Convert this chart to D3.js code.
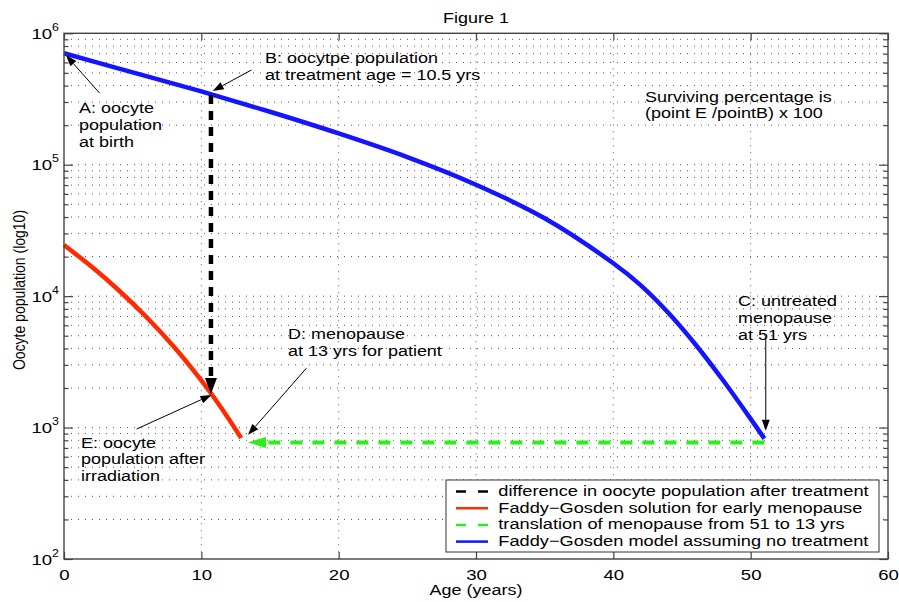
<!DOCTYPE html>
<html>
<head>
<meta charset="utf-8">
<script src="https://cdn.jsdelivr.net/npm/d3@7/dist/d3.min.js"></script>
<style>
  body { margin: 0; background: #fff; }
  text { font-family: "Liberation Sans", Arial, sans-serif; fill: #000; }
</style>
</head>
<body>
<div id="chart"></div>
<script>
// Chart values
var untreatedAge = [0, 5, 10, 15, 20, 25, 30, 35, 40, 42, 44, 46, 48, 50, 51];
var untreatedPop = [704700, 504700, 361400, 252900, 173000, 114300, 70470, 39170, 17780, 12080, 7480, 4270, 2280, 1164, 824];

var treatedAge = [0, 2, 4, 6, 8, 10, 11, 12, 12.9];
var treatedPop = [24490, 16790, 11040, 6934, 4121, 2286, 1648, 1161, 832];

var diffAge = [10.7, 10.7];
var diffPop = [340000, 1800];

var shiftAge = [51, 13.4];
var shiftPop = [771, 771];

var xTicks = [0, 10, 20, 30, 40, 50, 60];
var yExponents = [2, 3, 4, 5, 6];

var legendLabels = [
  "difference in oocyte population after treatment",
  "Faddy\u2212Gosden solution for early menopause",
  "translation of menopause from 51 to 13 yrs",
  "Faddy\u2212Gosden model assuming no treatment"
];

// annotation arrows: tail and tip, in (age, population)
var noteFrom = [[2.6, 350000], [13.65, 526000], [51.1, 4930], [17.65, 2830], [5.29, 975]];
var noteTo   = [[0.15, 680000], [10.83, 364000], [51.1, 946], [13.4, 881], [10.74, 1770]];

var noteText = [
  { x: 79,  y: 113,   lines: ["A: oocyte", "population", "at birth"] },
  { x: 265, y: 63,    lines: ["B: oocytpe population", "at treatment age = 10.5 yrs"] },
  { x: 645, y: 101.5, lines: ["Surviving percentage is", "(point E /pointB) x 100"] },
  { x: 738, y: 306,   lines: ["C: untreated", "menopause", "at 51 yrs"] },
  { x: 288, y: 339,   lines: ["D: menopause", "at 13 yrs for patient"] },
  { x: 81,  y: 447.5, lines: ["E: oocyte", "population after", "irradiation"] }
];

// Layout
var width = 899, height = 602;
var plotLeft = 64, plotRight = 888, plotTop = 33.3, plotBottom = 559;
var stretch = 1.24;   // the figure's text is a bit wide
var blue = "#1414ff", red = "#ff2a00", green = "#2aef1a";

var svg = d3.select("#chart").append("svg")
  .attr("width", width)
  .attr("height", height);

var x = d3.scaleLinear().domain([0, 60]).range([plotLeft, plotRight]);
var y = d3.scaleLog().domain([100, 1e6]).range([plotBottom, plotTop]);

// all grid values on the log axis
var majorVals = yExponents.map(function(e) { return Math.pow(10, e); });
var minorVals = [];
yExponents.slice(0, -1).forEach(function(e) {
  for (var k = 2; k <= 9; k++) minorVals.push(k * Math.pow(10, e));
});

// Dotted grid
var grid = svg.append("g").attr("stroke", "#555").attr("stroke-width", 1).attr("stroke-dasharray", "1,6");
grid.selectAll("line.gx")
  .data(xTicks.slice(1, -1))
  .enter().append("line")
  .attr("x1", function(d) { return x(d); })
  .attr("x2", function(d) { return x(d); })
  .attr("y1", plotTop).attr("y2", plotBottom);
grid.selectAll("line.gy")
  .data(majorVals.slice(1, -1).concat(minorVals))
  .enter().append("line")
  .attr("x1", plotLeft).attr("x2", plotRight)
  .attr("y1", function(d) { return y(d); })
  .attr("y2", function(d) { return y(d); });

// helper: line ending in a filled arrowhead
function arrow(x1, y1, x2, y2, len, hw, color, w, dash) {
  var dx = x2 - x1, dy = y2 - y1, L = Math.sqrt(dx * dx + dy * dy);
  var ux = dx / L, uy = dy / L;
  var bx = x2 - ux * len, by = y2 - uy * len;
  var ln = svg.append("line")
    .attr("x1", x1).attr("y1", y1).attr("x2", bx).attr("y2", by)
    .attr("stroke", color).attr("stroke-width", w);
  if (dash) ln.attr("stroke-dasharray", dash);
  svg.append("path")
    .attr("d", "M" + x2 + "," + y2 +
      "L" + (bx - uy * hw) + "," + (by + ux * hw) +
      "L" + (bx + uy * hw) + "," + (by - ux * hw) + "Z")
    .attr("fill", color);
}

// Curves
var line = d3.line()
  .x(function(d) { return x(d[0]); })
  .y(function(d) { return y(d[1]); })
  .curve(d3.curveCatmullRom.alpha(0.5));

svg.append("path")
  .datum(d3.zip(untreatedAge, untreatedPop))
  .attr("d", line)
  .attr("fill", "none").attr("stroke", blue).attr("stroke-width", 4.5);

svg.append("path")
  .datum(d3.zip(treatedAge, treatedPop))
  .attr("d", line)
  .attr("fill", "none").attr("stroke", red).attr("stroke-width", 4.5);

// dashed arrows
arrow(x(diffAge[0]), y(diffPop[0]), x(diffAge[1]), y(diffPop[1]), 16, 6, "#000", 4.5, "9,7");
arrow(x(shiftAge[0]), y(shiftPop[0]), x(shiftAge[1]), y(shiftPop[1]), 18, 5.5, green, 4, "12,10");

// thin annotation arrows
noteFrom.forEach(function(f, i) {
  var t = noteTo[i];
  arrow(x(f[0]), y(f[1]), x(t[0]), y(t[1]), 11, 4, "#000", 1);
});

// Frame and ticks
var axisColor = "#444";
function styleAxis(g) {
  g.select(".domain").remove();
  g.selectAll(".tick line").attr("stroke", axisColor).attr("stroke-width", 1.2);
}

svg.append("g")
  .attr("transform", "translate(0," + plotBottom + ")")
  .call(d3.axisBottom(x).tickValues(xTicks).tickSize(-7).tickPadding(10))
  .call(styleAxis)
  .call(function(g) {
    g.selectAll(".tick text")
      .attr("font-size", 15).attr("font-family", "Liberation Sans, Arial, sans-serif")
      .attr("fill", "#000").attr("transform", "scale(" + stretch + ",1)");
  });

svg.append("g")
  .attr("transform", "translate(0," + plotTop + ")")
  .call(d3.axisTop(x).tickValues(xTicks).tickSize(-7).tickFormat(""))
  .call(styleAxis);

[[majorVals, 9], [minorVals, 4.5]].forEach(function(set) {
  svg.append("g")
    .attr("transform", "translate(" + plotLeft + ",0)")
    .call(d3.axisLeft(y).tickValues(set[0]).tickSize(-set[1]).tickFormat(""))
    .call(styleAxis);
  svg.append("g")
    .attr("transform", "translate(" + plotRight + ",0)")
    .call(d3.axisRight(y).tickValues(set[0]).tickSize(-set[1]).tickFormat(""))
    .call(styleAxis);
});

svg.append("rect")
  .attr("x", plotLeft).attr("y", plotTop)
  .attr("width", plotRight - plotLeft).attr("height", plotBottom - plotTop)
  .attr("fill", "none").attr("stroke", axisColor).attr("stroke-width", 1.4);

// y tick labels, 10 with exponent
yExponents.forEach(function(e) {
  var t = svg.append("g")
    .attr("transform", "translate(59," + (y(Math.pow(10, e)) + 5.5) + ") scale(" + stretch + ",1)")
    .append("text")
    .attr("text-anchor", "end")
    .attr("font-size", 15);
  t.append("tspan").text("10");
  t.append("tspan").attr("dy", -8).attr("font-size", 10).text(e);
});

// helper for stretched multi-line text
function label(px, py, lines, size, anchor) {
  var g = svg.append("g")
    .attr("transform", "translate(" + px + "," + py + ") scale(" + stretch + ",1)");
  lines.forEach(function(s, i) {
    g.append("text")
      .attr("y", i * 17)
      .attr("font-size", size)
      .attr("text-anchor", anchor || "start")
      .text(s);
  });
}

noteText.forEach(function(n) { label(n.x, n.y, n.lines, 14.5); });

label((plotLeft + plotRight) / 2, 22.5, ["Figure 1"], 14.5, "middle");
label((plotLeft + plotRight) / 2, 595, ["Age (years)"], 14.5, "middle");

svg.append("text")
  .attr("transform", "translate(25," + 290 + ") scale(" + stretch + ",1) rotate(-90)")
  .attr("text-anchor", "middle")
  .attr("font-size", 14)
  .text("Oocyte population (log10)");

// Legend
var legX = 446, legY = 480;
var legend = svg.append("g");
legend.append("rect")
  .attr("x", legX).attr("y", legY)
  .attr("width", 433).attr("height", 72)
  .attr("fill", "#fff").attr("stroke", "#333").attr("stroke-width", 1);

var legColors = ["#000", red, green, blue];
var legDash = ["10,12", null, "10,12", null];

legendLabels.forEach(function(s, i) {
  var base = 496 + i * 16.7;
  var l = legend.append("line")
    .attr("x1", 456).attr("x2", 488)
    .attr("y1", base - 4.5).attr("y2", base - 4.5)
    .attr("stroke", legColors[i]).attr("stroke-width", 2.5);
  if (legDash[i]) l.attr("stroke-dasharray", legDash[i]);
});
legendLabels.forEach(function(s, i) {
  label(498.3, 496 + i * 16.7, [s], 14.7);
});
</script>
</body>
</html>
